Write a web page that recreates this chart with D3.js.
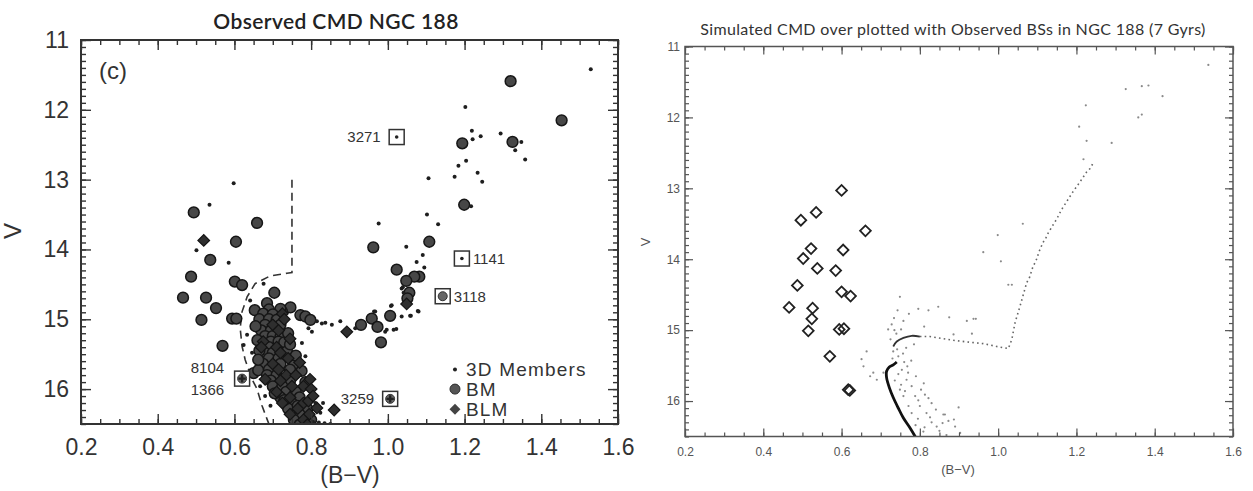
<!DOCTYPE html>
<html>
<head>
<meta charset="utf-8">
<script src="https://cdn.jsdelivr.net/npm/d3@7"></script>
<style>
  body { margin: 0; background: #fff; }
  svg { display: block; }
</style>
</head>
<body>
<div id="chart"></div>
<script>
// ---------- shared axis values ----------
const bvTicks = [0.2, 0.4, 0.6, 0.8, 1.0, 1.2, 1.4, 1.6];
const vTicks = [11, 12, 13, 14, 15, 16];
const bvDomain = [0.2, 1.6];
const vDomain = [11, 16.5];

// ---------- left panel: observed CMD ----------
// 3D members (small dots)
const members = [
  [0.598,13.05],[0.535,13.36],[0.501,14.01],[0.585,14.19],
  [1.529,11.42],[1.202,11.96],[1.219,12.30],[1.242,12.38],[1.221,12.42],[1.294,12.34],
  [1.348,12.46],[1.332,12.58],[1.358,12.71],[1.204,12.73],[1.184,12.80],[1.174,12.96],
  [1.234,12.90],[1.246,13.03],[1.106,12.98],[1.217,13.38],[1.102,13.50],[1.131,13.64],
  [0.976,13.63],[1.048,13.96],[1.091,14.08],[1.075,14.18],[1.095,14.26],[1.036,14.56],
  [1.039,14.54],[1.041,14.62],[1.078,14.88],[1.008,14.81],[1.060,14.95],[1.036,14.96],
  [1.022,15.14],[0.964,14.89],[0.993,15.18],[0.915,15.13],[0.876,15.03],[0.854,15.08],
  [0.837,15.05],[0.815,15.03],[0.828,15.06],[0.793,15.13],[0.802,15.18],[0.997,15.15],
  [1.015,15.15],[1.010,14.80],[1.058,14.95],[1.080,14.89],[0.967,14.89],
  [0.831,16.20],[0.805,16.47],[0.820,16.48],[0.835,16.49],[0.850,16.50],
  [0.676,14.49],[0.641,14.73],[0.646,15.48],[0.633,15.22],[0.667,15.96],[0.680,16.10],
  [0.694,16.24],[0.811,16.20],[0.824,16.34],[0.785,15.53],[0.776,15.34],[0.624,15.37]
];
// BM (circles)
const bm = [
  [1.320,11.59],[1.453,12.15],[1.194,12.48],[1.325,12.46],[1.199,13.36],[1.108,13.89],
  [0.962,13.97],[1.023,14.29],[1.082,14.39],[1.069,14.39],[1.048,14.45],[1.056,14.62],
  [1.051,14.70],[1.006,14.95],[0.958,14.99],[0.973,15.11],[0.982,15.33],[0.930,15.08],
  [0.746,14.83],[0.724,14.89],[0.772,14.94],[0.785,14.96],[0.798,15.01],
  [0.494,13.47],[0.659,13.62],[0.604,13.89],[0.537,14.15],[0.487,14.39],[0.601,14.46],
  [0.620,14.51],[0.466,14.69],[0.526,14.69],[0.552,14.84],[0.514,15.01],[0.594,14.99],
  [0.605,14.99],[0.569,15.38],[0.653,14.87],[0.704,14.62],[0.650,15.77],
  [0.685,14.77],[0.720,14.85],[0.690,14.86],[0.675,14.92],[0.700,14.93],[0.665,15.00],
  [0.690,15.00],[0.710,15.01],[0.680,15.08],[0.720,15.08],[0.670,15.16],[0.695,15.16],
  [0.680,15.24],[0.700,15.24],[0.720,15.25],[0.695,15.32],[0.715,15.32],[0.730,15.33],
  [0.690,15.40],[0.737,15.46],[0.680,15.48],[0.700,15.48],[0.690,15.56],[0.715,15.56],
  [0.675,15.64],[0.720,15.64],[0.755,15.66],[0.662,15.73],[0.690,15.72],[0.745,15.72],
  [0.685,15.80],[0.710,15.80],[0.695,15.88],[0.745,15.88],[0.700,15.96],[0.725,15.96],
  [0.735,16.04],[0.760,16.04],[0.720,16.12],[0.770,16.12],[0.750,16.20],[0.740,16.28],
  [0.790,16.28],[0.770,16.36],[0.755,16.44],[0.800,16.44],[0.770,16.51],
  [0.655,15.10],[0.660,15.30],[0.665,15.45],[0.662,15.58],[0.740,15.20],[0.745,15.36],
  [0.760,15.52],[0.775,15.74],[0.785,15.90],[0.705,16.06],[0.730,16.16],[0.765,16.24]
];
// BLM (diamonds)
const blm = [
  [0.520,13.87],[1.049,14.78],[0.893,15.18],[0.860,16.30],
  [0.725,14.92],[0.730,15.00],[0.700,15.08],[0.715,15.16],[0.675,15.32],[0.710,15.40],
  [0.720,15.48],[0.740,15.56],[0.700,15.64],[0.715,15.72],[0.735,15.80],[0.760,15.80],
  [0.720,15.88],[0.797,15.86],[0.750,15.96],[0.780,15.96],[0.710,16.04],[0.800,16.00],
  [0.745,16.12],[0.725,16.20],[0.780,16.20],[0.793,16.17],[0.765,16.28],[0.815,16.27],
  [0.745,16.36],[0.795,16.36],[0.780,16.44],[0.790,16.51],
  [0.670,15.40],[0.745,15.28],[0.770,15.62],[0.680,15.86],[0.805,16.10]
];
// boxed (labelled) stars
const boxedIds = ["3271", "1141", "3118", "3259", "8104\n1366"];
const boxedBV = [1.023, 1.193, 1.143, 1.006, 0.620];
const boxedV = [12.39, 14.13, 14.67, 16.14, 15.85];
const boxedKind = ["dot", "dot", "circle", "cross", "cross"];
// dashed selection boundary
const boundary = [
  [0.750,13.00],[0.750,14.33],[0.737,14.34],[0.693,14.38],[0.654,14.49],[0.633,14.68],
  [0.620,14.89],[0.615,15.13],[0.620,15.39],[0.628,15.58],[0.646,15.86],[0.659,16.00],
  [0.672,16.24],[0.685,16.43],[0.690,16.50]
];
const legendLabels = ["3D Members", "BM", "BLM"];

// ---------- right panel: simulated CMD ----------
const bssObs = [
  [0.600,13.03],[0.535,13.34],[0.496,13.45],[0.661,13.60],[0.522,13.85],[0.604,13.87],
  [0.502,13.99],[0.538,14.13],[0.585,14.16],[0.487,14.37],[0.600,14.46],[0.623,14.52],
  [0.466,14.68],[0.526,14.69],[0.524,14.84],[0.515,15.01],[0.594,14.99],[0.606,14.98],
  [0.570,15.37],[0.617,15.84],[0.621,15.85]
];
const isoMS = [
  [0.790,16.52],[0.788,16.50],[0.775,16.38],[0.758,16.24],[0.745,16.10],[0.732,15.95],
  [0.722,15.81],[0.715,15.67],[0.715,15.58],[0.722,15.52],[0.732,15.49],[0.741,15.45]
];
const isoHook = [
  [0.732,15.23],[0.741,15.16],[0.758,15.11],[0.779,15.08],[0.800,15.09]
];
const isoGiant = [
  [0.800,15.09],[0.826,15.09],[0.860,15.12],[0.894,15.15],[0.928,15.17],[0.962,15.19],
  [0.996,15.23],[1.026,15.26],[1.035,15.13],[1.043,14.90],[1.056,14.66],[1.073,14.33],
  [1.080,14.26],[1.088,14.12],[1.099,13.99],[1.104,13.90],[1.114,13.77],[1.122,13.70],
  [1.128,13.63],[1.141,13.51],[1.150,13.43],[1.162,13.30],[1.191,13.05],[1.209,12.91],
  [1.226,12.77],[1.235,12.72],[1.243,12.64]
];
const simField = [
  [1.218,12.59],[1.226,12.33],[1.207,12.13],[1.224,11.83],[1.290,12.36],[1.326,11.60],
  [1.367,11.56],[1.384,11.55],[1.420,11.70],[1.358,12.00],[1.367,11.96],[1.537,11.26],
  [1.063,13.50],[0.999,13.66],[0.962,13.90],[1.007,14.03],[1.026,14.36],[1.035,14.36],
  [0.937,14.84],[0.920,14.87],[0.886,15.06],[0.933,15.05],[0.864,16.19],[0.890,16.36],
  [0.903,16.45],[0.749,14.53],[0.743,14.72],[0.758,14.87],[0.796,14.70],[0.822,14.72],
  [0.847,14.67],[0.943,14.84],[0.719,14.99],[0.728,14.92],[0.725,15.13],[0.732,15.30],
  [0.664,15.30],[0.656,15.51],[0.745,15.37],[0.754,15.56],[0.766,15.70],[0.749,15.84],
  [0.779,15.79],[0.788,15.93],[0.813,15.91],[0.800,16.07],[0.817,16.17],[0.779,16.17],
  [0.830,16.03],[0.860,16.19],[0.873,16.28],[0.843,16.36],[0.809,16.43],[0.690,15.70],
  [0.707,15.60],[0.681,15.60],[0.758,15.93],[0.771,16.07],[0.651,15.41],[0.673,15.65],
  [0.735,15.00],[0.740,15.05],[0.730,15.40],[0.760,15.45],[0.770,15.60],[0.795,16.25],
  [0.830,16.30],[0.850,16.42],[0.790,15.65],[0.810,15.75],[0.765,15.25],[0.785,15.20],
  [0.745,15.62],[0.752,15.77],[0.762,15.86],[0.736,15.71],[0.768,15.51],[0.778,15.43],
  [0.757,15.33],[0.742,15.27],[0.803,15.84],[0.822,15.96],[0.796,15.99],[0.841,16.12],
  [0.826,16.23],[0.858,16.31],[0.812,16.37],[0.789,16.34],[0.868,16.48],[0.887,16.26],
  [0.899,16.09],[0.734,14.83],[0.752,14.99],[0.772,14.77],[0.811,14.95],[0.875,14.82]
];

// ---------- svg ----------
const W = 1253, H = 491;
const svg = d3.select("#chart").append("svg")
  .attr("width", W).attr("height", H)
  .style("background", "#fff");
const defs = svg.append("defs");

function drawFrame(g, x, y, st) {
  const [x0, x1] = x.range();
  const [y0, y1] = y.range();   // y0 = top (V 11), y1 = bottom (V 16.5)
  const minorX = x.ticks(28), minorY = y.ticks(55);

  const axes = [
    [d3.axisBottom(x).tickValues(bvTicks).tickSize(-st.major).tickPadding(st.xPad).tickFormat(d3.format(".1f")), `translate(0,${y1})`],
    [d3.axisBottom(x).tickValues(minorX).tickSize(-st.minor).tickFormat(""), `translate(0,${y1})`],
    [d3.axisTop(x).tickValues(bvTicks).tickSize(-st.major).tickFormat(""), `translate(0,${y0})`],
    [d3.axisTop(x).tickValues(minorX).tickSize(-st.minor).tickFormat(""), `translate(0,${y0})`],
    [d3.axisLeft(y).tickValues(vTicks).tickSize(-st.major).tickPadding(st.yPad).tickFormat(d3.format("d")), `translate(${x0},0)`],
    [d3.axisLeft(y).tickValues(minorY).tickSize(-st.minor).tickFormat(""), `translate(${x0},0)`],
    [d3.axisRight(y).tickValues(vTicks).tickSize(-st.major).tickFormat(""), `translate(${x1},0)`],
    [d3.axisRight(y).tickValues(minorY).tickSize(-st.minor).tickFormat(""), `translate(${x1},0)`]
  ];
  axes.forEach(([ax, tr]) => {
    const a = g.append("g").attr("transform", tr).call(ax.tickSizeOuter(0));
    a.select(".domain").remove();
    a.selectAll(".tick line").attr("stroke", st.color).attr("stroke-width", st.tickWidth);
    a.selectAll(".tick text")
      .attr("fill", st.textColor)
      .style("font-family", st.font)
      .style("font-size", st.fontSize + "px");
  });
  g.append("rect")
    .attr("x", x0).attr("y", y0)
    .attr("width", x1 - x0).attr("height", y1 - y0)
    .attr("fill", "none")
    .attr("stroke", st.color)
    .attr("stroke-width", st.frameWidth);
}

const diamond = (size) => d3.symbol(d3.symbolSquare, size);

// ================= LEFT PANEL =================
const xL = d3.scaleLinear().domain(bvDomain).range([81, 618]);
const yL = d3.scaleLinear().domain(vDomain).range([40, 424]);
const gL = svg.append("g");

defs.append("clipPath").attr("id", "clipL")
  .append("rect").attr("x", 81).attr("y", 40).attr("width", 537).attr("height", 384);
const pL = gL.append("g").attr("clip-path", "url(#clipL)");

pL.append("path")
  .datum(boundary)
  .attr("d", d3.line().x(d => xL(d[0])).y(d => yL(d[1])))
  .attr("fill", "none")
  .attr("stroke", "#333")
  .attr("stroke-width", 1.6)
  .attr("stroke-dasharray", "8,5");

pL.selectAll(".bm").data(bm).enter().append("circle")
  .attr("cx", d => xL(d[0])).attr("cy", d => yL(d[1]))
  .attr("r", 5.4)
  .attr("fill", "#474747")
  .attr("stroke", "#161616")
  .attr("stroke-width", 1.5);

pL.selectAll(".blm").data(blm).enter().append("path")
  .attr("d", diamond(68))
  .attr("transform", d => `translate(${xL(d[0])},${yL(d[1])}) rotate(45)`)
  .attr("fill", "#2e2e2e")
  .attr("stroke", "#141414")
  .attr("stroke-width", 1.2);

pL.selectAll(".mem").data(members).enter().append("circle")
  .attr("cx", d => xL(d[0])).attr("cy", d => yL(d[1]))
  .attr("r", 2)
  .attr("fill", "#1e1e1e");

// boxed stars
boxedIds.forEach((id, i) => {
  const cx = xL(boxedBV[i]), cy = yL(boxedV[i]);
  pL.append("rect")
    .attr("x", cx - 7.5).attr("y", cy - 7.5)
    .attr("width", 15).attr("height", 15)
    .attr("fill", "#fff").attr("stroke", "#333").attr("stroke-width", 1.5);
  if (boxedKind[i] === "dot") {
    pL.append("circle").attr("cx", cx).attr("cy", cy).attr("r", 1.8).attr("fill", "#222");
  } else {
    pL.append("circle").attr("cx", cx).attr("cy", cy).attr("r", 4.5)
      .attr("fill", "#666").attr("stroke", "#333").attr("stroke-width", 1);
    if (boxedKind[i] === "cross") {
      pL.append("path").attr("d", d3.symbol(d3.symbolCross, 30)).attr("transform", `translate(${cx},${cy})`)
        .attr("fill", "#222");
    }
  }
  const lines = id.split("\n");
  const lab = gL.append("text")
    .style("font-family", "Liberation Sans, Arial, sans-serif")
    .style("font-size", "15px")
    .attr("fill", "#333");
  if (i === 1 || i === 2) {
    lab.attr("x", cx + 11).attr("y", cy).attr("dy", "0.36em").text(lines[0]);
  } else if (lines.length === 1) {
    lab.attr("x", cx - 16).attr("y", cy).attr("dy", "0.36em").attr("text-anchor", "end").text(lines[0]);
  } else {
    lab.attr("text-anchor", "end");
    lab.append("tspan").attr("x", cx - 18).attr("y", cy - 11).attr("dy", "0.36em").text(lines[0]);
    lab.append("tspan").attr("x", cx - 18).attr("y", cy + 11).attr("dy", "0.36em").text(lines[1]);
  }
});

drawFrame(gL, xL, yL, {
  major: 10, minor: 5, xPad: 15, yPad: 12, color: "#333", textColor: "#333",
  tickWidth: 1.4, frameWidth: 2, font: "Liberation Sans, Arial, sans-serif", fontSize: 23
});

// "(c)" label
gL.append("text").attr("x", 99).attr("y", 79)
  .style("font-family", "Liberation Sans, Arial, sans-serif").style("font-size", "24px")
  .attr("fill", "#333").text("(c)");

// legend
const legX = xL(1.175);
const legY = [yL(15.72), yL(16.0), yL(16.29)];
gL.append("circle").attr("cx", legX).attr("cy", legY[0]).attr("r", 2).attr("fill", "#222");
gL.append("circle").attr("cx", legX).attr("cy", legY[1]).attr("r", 5).attr("fill", "#555").attr("stroke", "#2e2e2e");
gL.append("path").attr("d", diamond(60)).attr("transform", `translate(${legX},${legY[2]}) rotate(45)`).attr("fill", "#444");
legendLabels.forEach((t, i) => {
  gL.append("text").attr("x", legX + 11).attr("y", legY[i]).attr("dy", "0.36em")
    .style("font-family", "Liberation Sans, Arial, sans-serif").style("font-size", "19px")
    .style("letter-spacing", "1.2px")
    .attr("fill", "#333").text(t);
});

// titles and axis labels
gL.append("text").attr("x", 336).attr("y", 29).attr("text-anchor", "middle")
  .style("font-family", "Lato, Open Sans, sans-serif").style("font-size", "21px").style("font-weight", 600)
  .style("letter-spacing", "0.4px")
  .attr("fill", "#222").text("Observed CMD NGC 188");
gL.append("text").attr("x", 350).attr("y", 483).attr("text-anchor", "middle")
  .style("font-family", "Liberation Sans, Arial, sans-serif").style("font-size", "23px")
  .attr("fill", "#333").text("(B\u2212V)");
gL.append("text").attr("transform", "translate(21,231) rotate(-90)").attr("text-anchor", "middle")
  .style("font-family", "Liberation Sans, Arial, sans-serif").style("font-size", "24px")
  .attr("fill", "#333").text("V");

// ================= RIGHT PANEL =================
const xR = d3.scaleLinear().domain(bvDomain).range([685, 1233]);
const yR = d3.scaleLinear().domain(vDomain).range([46.5, 436.5]);
const gR = svg.append("g");

defs.append("clipPath").attr("id", "clipR")
  .append("rect").attr("x", 685).attr("y", 46.5).attr("width", 548).attr("height", 390);
const pR = gR.append("g").attr("clip-path", "url(#clipR)");

pR.selectAll(".fld").data(simField).enter().append("circle")
  .attr("cx", d => xR(d[0])).attr("cy", d => yR(d[1]))
  .attr("r", 1.1)
  .attr("fill", "#8a8a8a");

const lineR = d3.line().x(d => xR(d[0])).y(d => yR(d[1]));
pR.append("path").datum(isoGiant).attr("d", lineR)
  .attr("fill", "none").attr("stroke", "#666").attr("stroke-width", 1.6)
  .attr("stroke-dasharray", "1.6,3.2");
pR.append("path").datum(isoHook).attr("d", lineR.curve(d3.curveCatmullRom))
  .attr("fill", "none").attr("stroke", "#333").attr("stroke-width", 1.8);
pR.append("path").datum(isoMS).attr("d", lineR.curve(d3.curveCatmullRom))
  .attr("fill", "none").attr("stroke", "#111").attr("stroke-width", 2.8);

pR.selectAll(".bss").data(bssObs).enter().append("path")
  .attr("d", diamond(58))
  .attr("transform", d => `translate(${xR(d[0])},${yR(d[1])}) rotate(45)`)
  .attr("fill", "none")
  .attr("stroke", "#222")
  .attr("stroke-width", 1.8);

drawFrame(gR, xR, yR, {
  major: 8, minor: 4, xPad: 11, yPad: 5, color: "#555", textColor: "#555",
  tickWidth: 1.2, frameWidth: 1.5, font: "Liberation Sans, Arial, sans-serif", fontSize: 12
});

gR.append("text").attr("x", 953).attr("y", 35).attr("text-anchor", "middle")
  .style("font-family", "Lato, Open Sans, sans-serif").style("font-size", "16px")
  .style("letter-spacing", "0.35px")
  .attr("fill", "#333").text("Simulated CMD over plotted with Observed BSs  in NGC 188 (7 Gyrs)");
gR.append("text").attr("x", 958).attr("y", 474).attr("text-anchor", "middle")
  .style("font-family", "Liberation Sans, Arial, sans-serif").style("font-size", "13px")
  .attr("fill", "#555").text("(B\u2212V)");
gR.append("text").attr("transform", "translate(650,242) rotate(-90)").attr("text-anchor", "middle")
  .style("font-family", "Liberation Sans, Arial, sans-serif").style("font-size", "13px")
  .attr("fill", "#555").text("V");
</script>
</body>
</html>
